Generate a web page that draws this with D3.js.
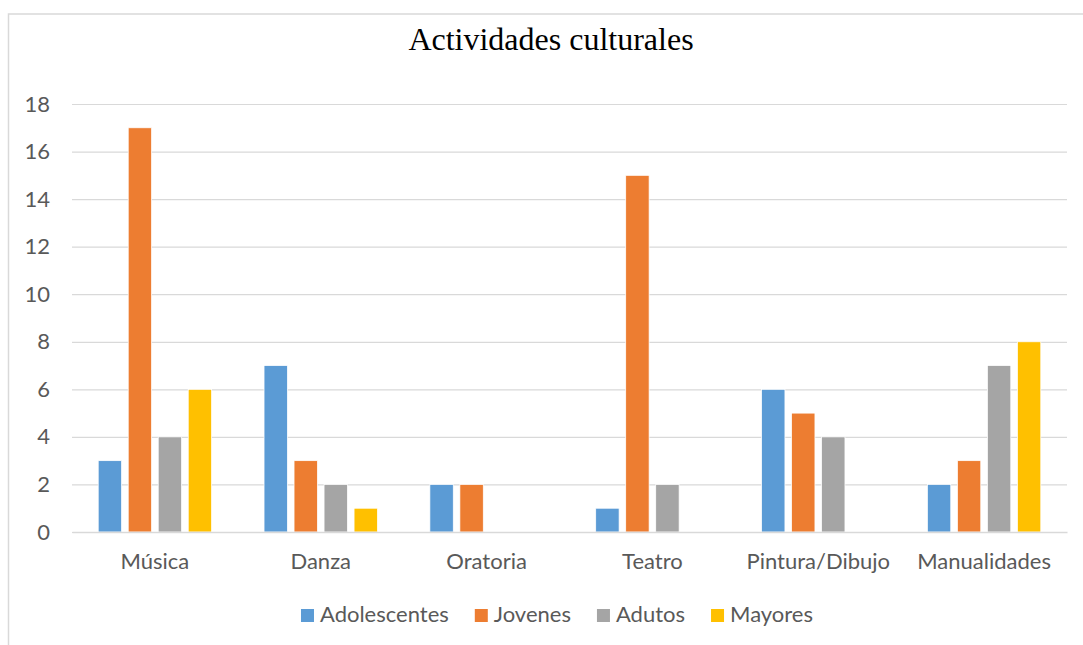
<!DOCTYPE html>
<html>
<head>
<meta charset="utf-8">
<script src="https://cdn.jsdelivr.net/npm/d3@7"></script>
<style>
  body { margin: 0; background: #fff; }
  text { font-family: Lato, "Open Sans", sans-serif; }
</style>
</head>
<body>
<script>
(function(){

//chart data
var categories = ["Música", "Danza", "Oratoria", "Teatro", "Pintura/Dibujo", "Manualidades"];
var seriesNames = ["Adolescentes", "Jovenes", "Adutos", "Mayores"];
var adolescentes = [3, 7, 2, 1, 6, 2];
var jovenes = [17, 3, 2, 15, 5, 3];
var adutos = [4, 2, 0, 2, 4, 7];
var mayores = [6, 1, 0, 0, 0, 8];
var yTicks = [0, 2, 4, 6, 8, 10, 12, 14, 16, 18];
var colors = ["#5b9bd5", "#ed7d31", "#a5a5a5", "#ffc000"];

var seriesValues = [adolescentes, jovenes, adutos, mayores];

var width = 1083,
    height = 645,
    plotLeft = 72,
    plotRight = 1067,
    plotTop = 104,
    plotBottom = 532,
    labelSize = "22px";

var svg = d3.select("body")
    .append("svg")
    .attr("width", width)
    .attr("height", height);

//chart frame
svg.append("rect")
    .attr("x", 8.5)
    .attr("y", 14)
    .attr("width", 1200)
    .attr("height", 700)
    .attr("fill", "#fff")
    .attr("stroke", "#d9d9d9")
    .attr("stroke-width", 1.5);

//title
svg.append("text")
    .attr("x", 551)
    .attr("y", 50)
    .attr("text-anchor", "middle")
    .style("font-family", "'Liberation Serif', 'Times New Roman', serif")
    .style("font-size", "32px")
    .style("fill", "#000")
    .text("Actividades culturales");

var x0 = d3.scaleBand()
    .domain(categories)
    .range([plotLeft, plotRight]);

var groupWidth = x0.bandwidth() * 0.684;
var groupOffset = (x0.bandwidth() - groupWidth) / 2;

var x1 = d3.scaleBand()
    .domain(seriesNames)
    .range([groupOffset, groupOffset + groupWidth])
    .paddingInner(0.22);

var y = d3.scaleLinear()
    .domain([0, 18])
    .range([plotBottom, plotTop]);

//gridlines and y labels
var yAxis = d3.axisLeft(y)
    .tickValues(yTicks)
    .tickSize(-(plotRight - plotLeft))
    .tickPadding(22);

var gy = svg.append("g")
    .attr("transform", "translate(" + plotLeft + ",0)")
    .call(yAxis);

gy.select(".domain").remove();
gy.selectAll("line")
    .attr("stroke", "#d9d9d9")
    .attr("stroke-width", 1.2);
gy.selectAll("text")
    .style("font-size", labelSize)
    .style("fill", "#595959");

//bars
var rows = [];
categories.forEach(function(c, i){
    seriesNames.forEach(function(s, j){
        if (seriesValues[j][i] > 0){
            rows.push({cat: c, series: s, value: seriesValues[j][i], color: colors[j]});
        }
    });
});

svg.append("g")
    .selectAll("rect")
    .data(rows)
    .enter()
    .append("rect")
    .attr("x", function(d){ return x0(d.cat) + x1(d.series); })
    .attr("y", function(d){ return y(d.value); })
    .attr("width", x1.bandwidth())
    .attr("height", function(d){ return y(0) - y(d.value); })
    .attr("fill", function(d){ return d.color; })
    .attr("stroke", "#fff")
    .attr("stroke-width", 0.75);

//baseline and category labels
var xAxis = d3.axisBottom(x0)
    .tickSize(0)
    .tickPadding(21);

var gx = svg.append("g")
    .attr("transform", "translate(0," + plotBottom + ")")
    .call(xAxis);

gx.select(".domain")
    .attr("stroke", "#d9d9d9")
    .attr("stroke-width", 1.5);
gx.selectAll("text")
    .style("font-size", labelSize)
    .style("fill", "#595959");

//legend
var legend = svg.append("g");
var items = legend.selectAll("g")
    .data(seriesNames)
    .enter()
    .append("g");

items.append("rect")
    .attr("width", 13)
    .attr("height", 13)
    .attr("y", 609)
    .attr("fill", function(d, i){ return colors[i]; });

items.append("text")
    .attr("x", 19)
    .attr("y", 622)
    .style("font-size", labelSize)
    .style("fill", "#595959")
    .text(function(d){ return d; });

var offsets = [], total = 0;
items.each(function(){
    var w = 19 + d3.select(this).select("text").node().getComputedTextLength();
    offsets.push(total);
    total += w + 26;
});
total -= 26;
var legendStart = 557 - total / 2;
items.attr("transform", function(d, i){
    return "translate(" + (legendStart + offsets[i]) + ",0)";
});

})();
</script>
</body>
</html>
